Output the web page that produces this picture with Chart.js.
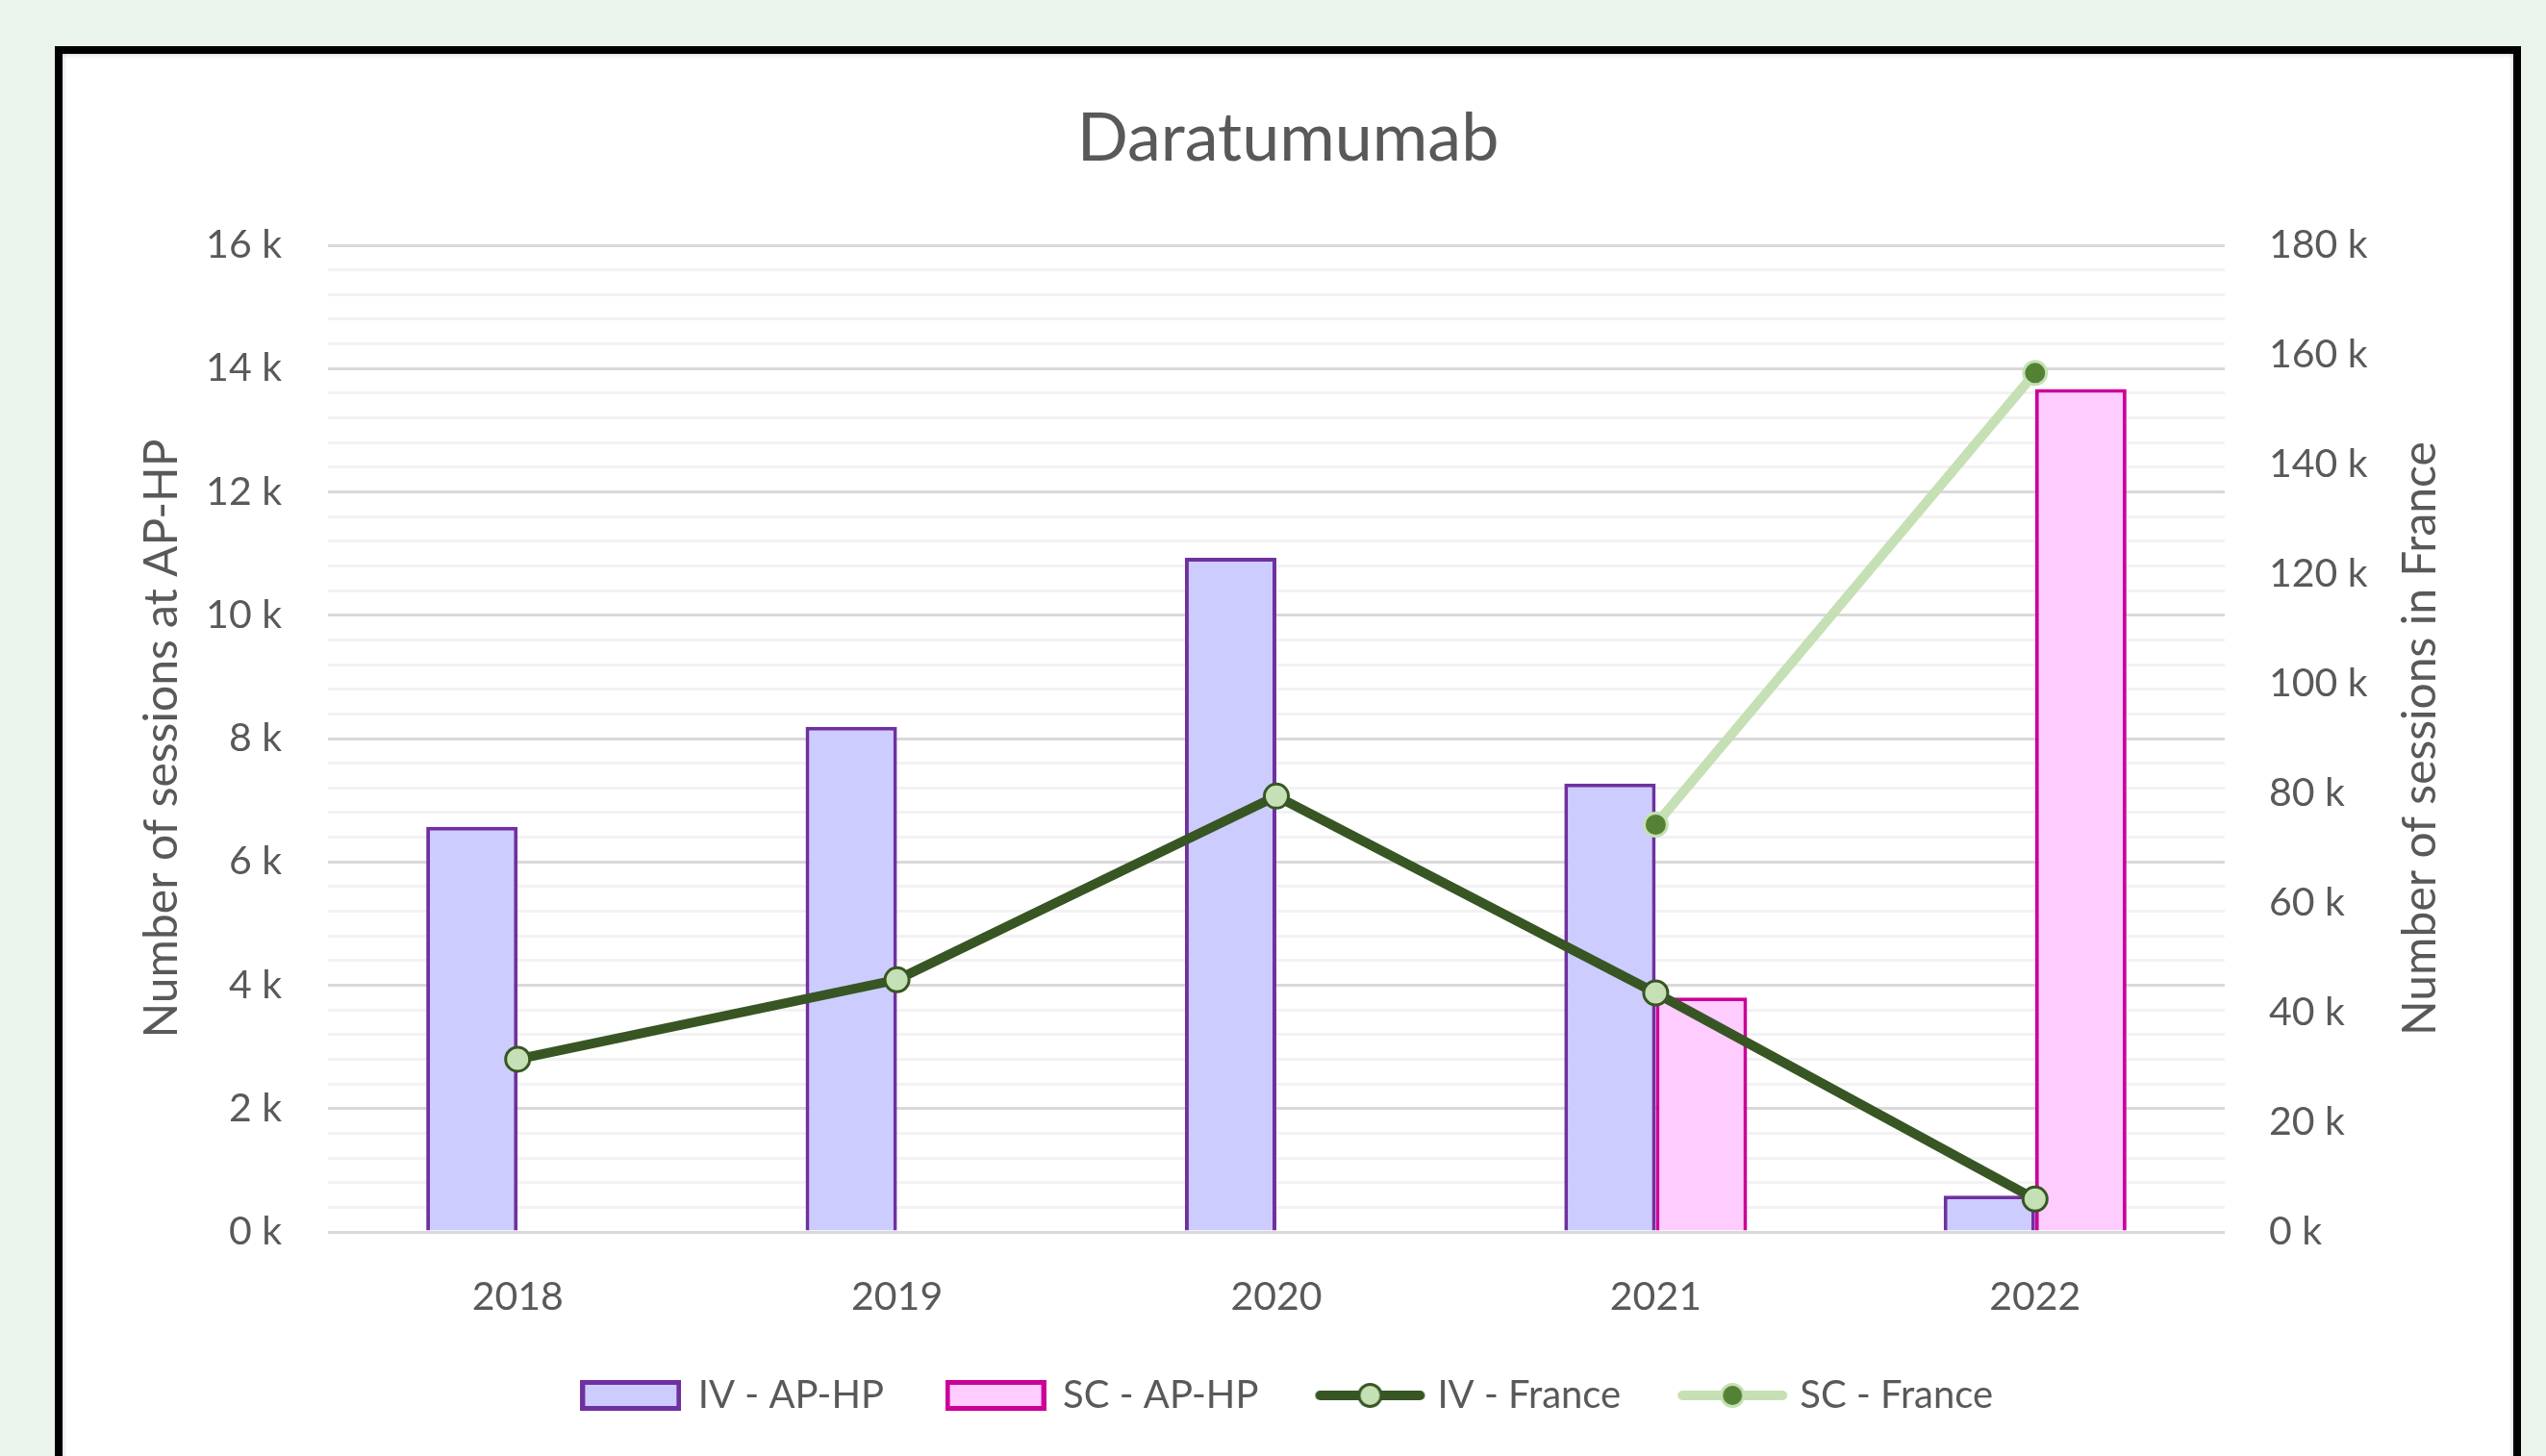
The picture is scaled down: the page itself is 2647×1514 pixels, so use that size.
<!DOCTYPE html>
<html>
<head>
<meta charset="utf-8">
<script src="https://cdn.jsdelivr.net/npm/chart.js@4.4.1/dist/chart.umd.min.js"></script>
<style>
  html, body { margin: 0; padding: 0; width: 2647px; height: 1514px; overflow: hidden; background: #ebf4ea; }
  #box { position: absolute; left: 57px; top: 48px; width: 2564px; height: 1600px; box-sizing: border-box;
         border: 8px solid #000; background: #fff; box-shadow: inset 0 0 5px rgba(0,0,0,0.25); }
  #wrap { position: absolute; left: 0; top: 0; width: 2548px; height: 1458px; }
</style>
</head>
<body>
<div id="box"><div id="wrap"><canvas id="c" width="2548" height="1458"></canvas></div></div>
<script>
// ---- data ----
const categories = ['2018', '2019', '2020', '2021', '2022'];
const ivApHp = [6570, 8190, 10930, 7270, 590];
const scApHp = [null, null, null, 3800, 13670];
const ivFrance = [31500, 46000, 79500, 43600, 6000];
const scFrance = [null, null, null, 74300, 156700];
const seriesNames = ['IV - AP-HP', 'SC - AP-HP', 'IV - France', 'SC - France'];
const chartTitle = 'Daratumumab';
const leftAxisTitle = 'Number of sessions at AP-HP';
const rightAxisTitle = 'Number of sessions in France';

// ---- styles ----
const FONT = 'Lato';
const TXT = '#595959';
const C = {
  ivFill: '#ccccff', ivBorder: '#7030a0',
  scFill: '#ffccff', scBorder: '#cc0099',
  ivLine: '#375623', ivMarker: '#c5e0b4',
  scLine: '#c5e0b4', scMarker: '#548235'
};

function barIcon(fill, border) {
  const cv = document.createElement('canvas');
  cv.width = 105; cv.height = 32;
  const g = cv.getContext('2d');
  g.fillStyle = fill; g.fillRect(0, 0, 105, 32);
  g.strokeStyle = border; g.lineWidth = 5; g.strokeRect(2.5, 2.5, 100, 27);
  return cv;
}
function lineIcon(line, mFill, mBorder) {
  const cv = document.createElement('canvas');
  cv.width = 116; cv.height = 34;
  const g = cv.getContext('2d');
  g.strokeStyle = line; g.lineWidth = 10; g.lineCap = 'round';
  g.beginPath(); g.moveTo(6, 17); g.lineTo(110, 17); g.stroke();
  g.beginPath(); g.arc(58, 17, 11.5, 0, Math.PI * 2);
  g.fillStyle = mFill; g.fill();
  g.lineWidth = 3; g.strokeStyle = mBorder; g.stroke();
  return cv;
}
const legendIcons = [
  barIcon(C.ivFill, C.ivBorder),
  barIcon(C.scFill, C.scBorder),
  lineIcon(C.ivLine, C.ivMarker, C.ivLine),
  lineIcon(C.scLine, C.scMarker, C.scLine)
];

const rightTitlePlugin = {
  id: 'rightTitle',
  afterDraw(chart) {
    const ctx = chart.ctx;
    const a = chart.chartArea;
    ctx.save();
    ctx.translate(2452, (a.top + a.bottom) / 2);
    ctx.rotate(-Math.PI / 2);
    ctx.font = '48px ' + FONT;
    ctx.fillStyle = TXT;
    ctx.textAlign = 'center';
    ctx.textBaseline = 'middle';
    ctx.fillText(rightAxisTitle, 0, 0);
    ctx.restore();
  }
};

new Chart(document.getElementById('c'), {
  type: 'bar',
  data: {
    labels: categories,
    datasets: [
      { type: 'bar', label: seriesNames[0], data: ivApHp, yAxisID: 'y', order: 2,
        backgroundColor: C.ivFill, borderColor: C.ivBorder, borderWidth: 4,
        categoryPercentage: 0.482, barPercentage: 1.0 },
      { type: 'bar', label: seriesNames[1], data: scApHp, yAxisID: 'y', order: 2,
        backgroundColor: C.scFill, borderColor: C.scBorder, borderWidth: 4,
        categoryPercentage: 0.482, barPercentage: 1.0 },
      { type: 'line', label: seriesNames[2], data: ivFrance, yAxisID: 'y1', order: 0,
        borderColor: C.ivLine, borderWidth: 10, tension: 0,
        pointRadius: 12.5, pointBorderWidth: 3, pointBackgroundColor: C.ivMarker, pointBorderColor: C.ivLine },
      { type: 'line', label: seriesNames[3], data: scFrance, yAxisID: 'y1', order: 1,
        borderColor: C.scLine, borderWidth: 10, tension: 0, spanGaps: false,
        pointRadius: 12, pointBorderWidth: 3, pointBackgroundColor: C.scMarker, pointBorderColor: C.scLine }
    ]
  },
  options: {
    responsive: false,
    animation: false,
    layout: { padding: { left: 0, right: 0, top: 0, bottom: 33 } },
    plugins: {
      tooltip: { enabled: false },
      title: {
        display: true, text: chartTitle, color: TXT,
        font: { family: FONT, size: 70, weight: 'normal' },
        padding: { top: 46, bottom: 69 }
      },
      legend: {
        position: 'bottom',
        labels: {
          color: TXT,
          font: { family: FONT, size: 40 },
          usePointStyle: true,
          pointStyleWidth: 100,
          boxHeight: 32,
          padding: 66,
          generateLabels(chart) {
            const items = Chart.defaults.plugins.legend.labels.generateLabels(chart);
            items.sort((p, q) => p.datasetIndex - q.datasetIndex);
            items.forEach(it => { it.pointStyle = legendIcons[it.datasetIndex]; });
            return items;
          }
        }
      }
    },
    scales: {
      x: {
        grid: { display: false },
        border: { display: false },
        ticks: { color: TXT, font: { family: FONT, size: 41 }, padding: 35 },
        afterFit(s) { s.height = 84; }
      },
      y: {
        position: 'left',
        min: 0, max: 16000,
        border: { display: false },
        grid: {
          drawTicks: false,
          color: c => (c.tick && Math.round(c.tick.value) % 2000 === 0) ? '#d9d9d9' : '#f2f2f2',
          lineWidth: 3
        },
        ticks: {
          stepSize: 400, autoSkip: false, color: TXT, padding: 48,
          font: { family: FONT, size: 41 },
          callback: v => (Math.round(v) % 2000 === 0) ? (Math.round(v) / 1000) + ' k' : ''
        },
        title: {
          display: true, text: leftAxisTitle, color: TXT,
          font: { family: FONT, size: 48 },
          padding: { top: 75, bottom: 0 }
        },
        afterFit(s) { s.width = 276; }
      },
      y1: {
        position: 'right',
        min: 0, max: 180000,
        border: { display: false },
        grid: { display: false, drawOnChartArea: false, drawTicks: false },
        ticks: {
          stepSize: 20000, color: TXT, padding: 46,
          font: { family: FONT, size: 41 },
          callback: v => (v / 1000) + ' k'
        },
        afterFit(s) { s.width = 300; }
      }
    }
  },
  plugins: [rightTitlePlugin]
});
</script>
</body>
</html>
